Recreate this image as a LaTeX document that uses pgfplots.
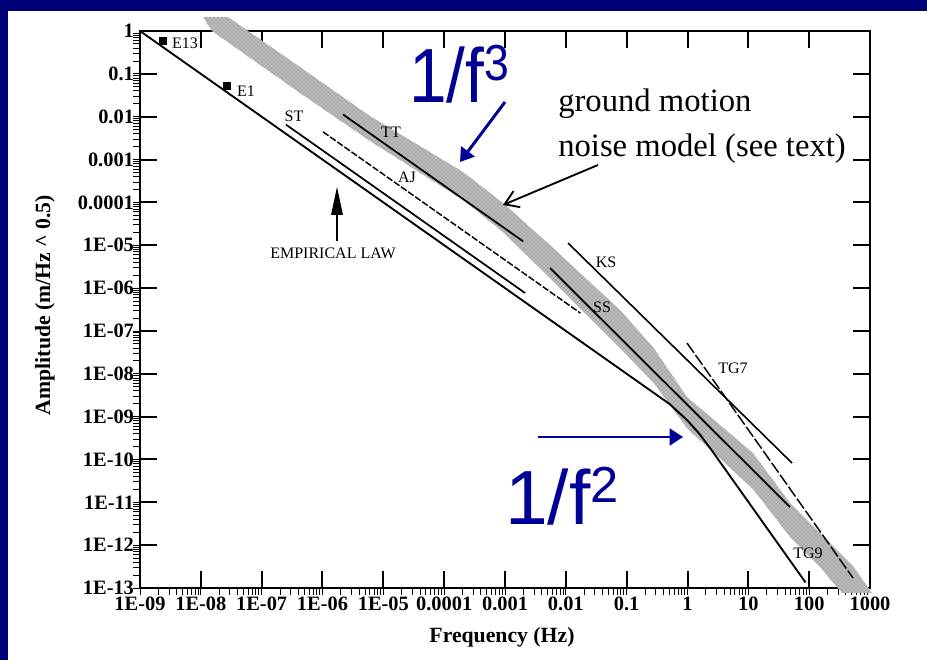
\documentclass[border=0pt]{standalone}
\usepackage{fontspec}
\setmainfont{Liberation Serif}
\newfontfamily\arialfont{Liberation Sans}
\usepackage{pgfplots}
\pgfplotsset{compat=1.18}
\usetikzlibrary{arrows.meta,patterns}
\definecolor{slidenavy}{RGB}{0,0,120}
\definecolor{annblue}{RGB}{0,0,150}
\begin{document}
\begin{tikzpicture}
\fill[slidenavy] (0,0) rectangle (695.25pt,495pt);
\fill[white] (6pt,0) rectangle (695.25pt,486.75pt);
\useasboundingbox (0,0) rectangle (695.25pt,495pt);
% minor ticks (outside, left and bottom only)
\begin{loglogaxis}[
  at={(105pt,54pt)}, anchor=south west,
  width=547.5pt, height=417.75pt, scale only axis,
  xmin=1e-9, xmax=1000, ymin=1e-13, ymax=1,
  axis x line*=bottom, axis y line*=left,
  axis line style={draw=none},
  xtick={1e-9,1e-8,1e-7,1e-6,1e-5,1e-4,1e-3,1e-2,1e-1,1,10,100,1000},
  ytick={1e-13,1e-12,1e-11,1e-10,1e-9,1e-8,1e-7,1e-6,1e-5,1e-4,1e-3,1e-2,1e-1,1},
  xticklabels={}, yticklabels={},
  tick align=outside, major tick length=0pt,
  minor tick length=5pt,
  minor tick style={line width=0.6pt, black},
]
\end{loglogaxis}
\begin{loglogaxis}[
  at={(105pt,54pt)}, anchor=south west,
  width=547.5pt, height=417.75pt, scale only axis,
  xmin=1e-9, xmax=1000, ymin=1e-13, ymax=1,
  clip=false,
  axis line style={line width=1.9pt},
  tick align=inside, major tick length=12.75pt,
  major tick style={line width=1.5pt, black},
  minor tick style={draw=none},
  xtick={1e-9,1e-8,1e-7,1e-6,1e-5,1e-4,1e-3,1e-2,1e-1,1,10,100,1000},
  xticklabels={1E-09,1E-08,1E-07,1E-06,1E-05,0.0001,0.001,0.01,0.1,1,10,100,1000},
  ytick={1e-13,1e-12,1e-11,1e-10,1e-9,1e-8,1e-7,1e-6,1e-5,1e-4,1e-3,1e-2,1e-1,1},
  yticklabels={1E-13,1E-12,1E-11,1E-10,1E-09,1E-08,1E-07,1E-06,1E-05,0.0001,0.001,0.01,0.1,1},
  tick label style={font=\bfseries\fontsize{15.3}{16}\selectfont},
  yticklabel style={xshift=-1pt},
  xticklabel style={yshift=-3pt},
  xlabel={Frequency (Hz)},
  ylabel={Amplitude (m/Hz \textasciicircum{} 0.5)},
  label style={font=\bfseries\fontsize{16.3}{18}\selectfont},
  xlabel style={at={(axis description cs:0.4959,-0.088)}, anchor=center},
  ylabel style={at={(axis description cs:-0.1301,0.508)}, anchor=center},
]
% ground motion noise model band
\addplot[fill=gray!50, draw=none] coordinates {
(2.799e-8,2.123) (4.266e-7,0.1445) (6.039e-6,1.038e-2) (2.042e-4,5.117e-4)
(9.268e-4,9.683e-5) (5.495e-3,1.012e-5) (7.762e-2,3.076e-7) (0.2710,4.217e-8)
(0.9817,2.871e-9) (11.94,1.416e-10) (48.42,9.638e-12) (150.7,1.923e-12)
(526.0,3.258e-13) (1079,7.638e-14)
(346.7,7.638e-14) (150.7,3.090e-13) (48.42,1.549e-12) (11.94,2.046e-11)
(0.9817,5.420e-10) (0.2710,6.427e-9) (7.762e-2,3.990e-8) (5.495e-3,1.718e-6)
(9.268e-4,2.037e-5) (2.042e-4,1.138e-4) (6.039e-6,2.710e-3) (4.266e-7,3.573e-2)
(1.528e-8,1) (1.086e-8,2.123)};
\addplot[pattern=crosshatch dots, pattern color=black!65, draw=none] coordinates {
(2.799e-8,2.123) (4.266e-7,0.1445) (6.039e-6,1.038e-2) (2.042e-4,5.117e-4)
(9.268e-4,9.683e-5) (5.495e-3,1.012e-5) (7.762e-2,3.076e-7) (0.2710,4.217e-8)
(0.9817,2.871e-9) (11.94,1.416e-10) (48.42,9.638e-12) (150.7,1.923e-12)
(526.0,3.258e-13) (1079,7.638e-14)
(346.7,7.638e-14) (150.7,3.090e-13) (48.42,1.549e-12) (11.94,2.046e-11)
(0.9817,5.420e-10) (0.2710,6.427e-9) (7.762e-2,3.990e-8) (5.495e-3,1.718e-6)
(9.268e-4,2.037e-5) (2.042e-4,1.138e-4) (6.039e-6,2.710e-3) (4.266e-7,3.573e-2)
(1.528e-8,1) (1.086e-8,2.123)};
% empirical law
\addplot[black, line width=1.4pt] coordinates {
(1e-9,1) (0.5012,1.995e-9) (1,8.128e-10) (1.585,3.890e-10) (2.512,1.622e-10) (87.10,1.349e-13)};
% ST
\addplot[black, line width=1.3pt] coordinates {(2.512e-7,6.531e-3) (2.138e-3,7.674e-7)};
% AJ
\addplot[black, line width=1.1pt, dash pattern=on 5pt off 1.5pt] coordinates {(1.023e-6,4.416e-3) (1.738e-2,2.600e-7)};
% TT
\addplot[black, line width=1.3pt] coordinates {(2.188e-6,1.122e-2) (1.995e-3,1.230e-5)};
% SS
\addplot[black, line width=1.3pt] coordinates {(5.495e-3,2.944e-6) (48.42,7.762e-12)};
% KS
\addplot[black, line width=1.2pt] coordinates {(1.086e-2,1.127e-5) (52.24,8.260e-11)};
% TG7
\addplot[black, line width=1.1pt, dash pattern=on 9pt off 2pt] coordinates {(0.9817,5.224e-8) (526.0,1.710e-13)};
% E13, E1 markers
\addplot[only marks, mark=square*, mark size=2.8pt, black] coordinates {(2.388e-9,0.589) (2.692e-8,0.0520)};
\end{loglogaxis}
\begin{scope}[shift={(0pt,495pt)}, x=0.75pt, y=-0.75pt]
\tikzset{lab/.style={font=\fontsize{12}{13}\selectfont, inner sep=0pt}}
\node[lab] at (185,43) {E13};
\node[lab] at (246,91) {E1};
\node[lab] at (294,116) {ST};
\node[lab] at (391,132) {TT};
\node[lab] at (407,177) {AJ};
\node[lab] at (606,262) {KS};
\node[lab] at (602,307) {SS};
\node[lab] at (733,368) {TG7};
\node[lab] at (808,553) {TG9};
\node[font=\fontsize{12}{13}\selectfont, inner sep=0pt] at (333,253) {EMPIRICAL LAW};
\draw[line width=0.9pt] (337,241) -- (337,212);
\fill (331,215) -- (343,215) -- (337,187) -- cycle;
\node[anchor=base west, inner sep=0pt, font=\fontsize{24.5}{26}\selectfont] at (558,112) {ground motion};
\node[anchor=base west, inner sep=0pt, font=\fontsize{24.5}{26}\selectfont] at (558,157) {noise model (see text)};
\draw[line width=1.4pt, -{Straight Barb[length=10pt,width=13pt]}] (598,165) -- (503,205);
\node[anchor=base west, inner sep=0pt, text=annblue] at (409,103)
  {\scalebox{0.88}[1]{\arialfont\fontsize{57.6}{60}\selectfont 1/f\raisebox{16.5pt}{\fontsize{38}{40}\selectfont 3}}};
\node[anchor=base west, inner sep=0pt, text=annblue] at (505,525)
  {\arialfont\fontsize{57.6}{60}\selectfont 1/f\raisebox{16.5pt}{\fontsize{38}{40}\selectfont 2}};
\draw[annblue, line width=2.2pt, -{Triangle[length=10pt,width=12.5pt]}] (505,102) -- (460,162);
\draw[annblue, line width=2.2pt, -{Triangle[length=10pt,width=12.5pt]}] (538,437) -- (683,437);
\end{scope}
\end{tikzpicture}
\end{document}
